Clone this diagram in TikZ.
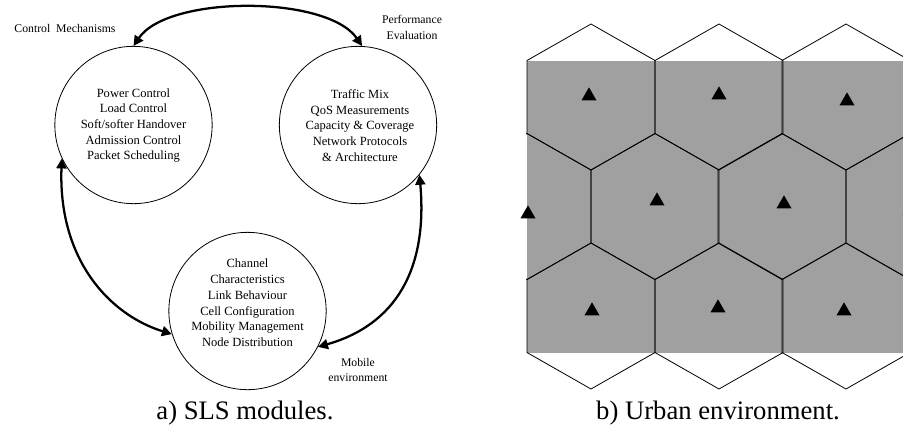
\documentclass[tikz,border=0pt]{standalone}
\usepackage{fontspec}
\setmainfont{Liberation Serif}
\usetikzlibrary{arrows.meta,shapes.geometric}
\definecolor{cellgray}{HTML}{A0A0A0}
\tikzset{
    module/.style={draw, circle, minimum size=118pt, inner sep=0pt, line width=0.6pt},
    moduletext/.style={align=center, font=\fontsize{9.4}{11.8}\selectfont},
    tag/.style={align=center, font=\fontsize{8.8}{11.6}\selectfont},
    caption/.style={font=\fontsize{20}{24}\selectfont},
    link/.style={line width=1.7pt, {Triangle[length=7.5pt,width=7.5pt]}-{Triangle[length=7.5pt,width=7.5pt]}},
    bs/.style={regular polygon, regular polygon sides=3, fill=black, inner sep=0pt, minimum size=13pt},
    hexline/.style={line width=0.6pt},
}
\newcommand{\hexcell}[2]{\draw[hexline](#1, #2-73) -- ++(64, 36.5) -- ++(0, 73) -- ++(-64, 36.5) -- ++(-64, -36.5) -- ++(0, -73) -- cycle;}
\begin{document}
\begin{tikzpicture}[x=0.75pt, y=-0.75pt]
    \useasboundingbox (0, 0) rectangle (903, 426);

    % a) SLS modules
    \node at (133.5, 125)(ctrl)[module]{};
    \node at (358, 125)(perf)[module]{};
    \node at (247.5, 311)(mob)[module]{};

    \node at (133.5, 125.5)(ctrltext)[moduletext]{Power Control\\Load Control\\Soft/softer Handover\\Admission Control\\Packet Scheduling};
    \node at (360, 125.5)(perftext)[moduletext]{Traffic Mix\\QoS Measurements\\Capacity \& Coverage\\Network Protocols\\\& Architecture};
    \node at (247.5, 303)(mobtext)[moduletext]{Channel\\Characteristics\\Link Behaviour\\Cell Configuration\\Mobility Management\\Node Distribution};

    \draw[link](ctrl.north) .. controls (168, -5) and (327, -5) .. (perf.87);
    \draw[link](ctrl.205) .. controls (58, 260) and (110, 315) .. (mob.197);
    \draw[link](perf.-39) .. controls (428, 270) and (395, 325) .. (mob.-27);

    \node at (65, 28)(ctrltag)[tag]{Control\ \ Mechanisms};
    \node at (412, 27.5)(perftag)[tag]{Performance\\Evaluation};
    \node at (358, 370)(mobtag)[tag]{Mobile\\environment};

    \node at (245, 413)(capa)[caption]{a) SLS modules.};

    % b) Urban environment
    \fill[cellgray](527, 61) rectangle (903, 352.5);
    \begin{scope}
        \clip (526, 0) rectangle (903, 426);
        \foreach \cx/\cy in {591/97, 719/97, 846/97, 527/206.5, 655/206.5, 782/206.5, 910/206.5, 591/316, 719/316, 846/316}{
            \hexcell{\cx}{\cy}
        }
    \end{scope}

    \foreach \n/\x/\y in {bs1/589/96, bs2/719/95, bs3/847/101, bs4/528/214, bs5/657/201, bs6/784/204, bs7/910/210, bs8/592/311, bs9/718/308, bs10/844/311}
        \node at (\x, \y)(\n)[bs]{};

    \node at (718, 413)(capb)[caption]{b) Urban environment.};
\end{tikzpicture}
\end{document}
